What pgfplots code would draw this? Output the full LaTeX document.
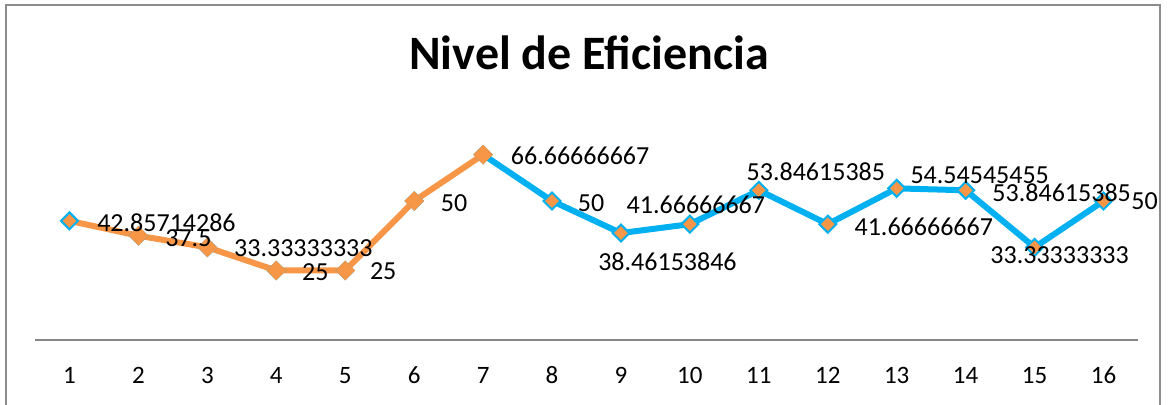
\documentclass[border=0pt]{standalone}
\usepackage{fontspec}
\setmainfont{Carlito}
\usepackage{pgfplots}
\usepackage{pgfplotstable}
\pgfplotsset{compat=1.18}

\definecolor{exorange}{HTML}{F79646}
\definecolor{exblue}{HTML}{00B0F0}
\definecolor{framegray}{HTML}{8C8C8C}
\definecolor{axisgray}{HTML}{868686}

% x, value, label text, label shift (pt)
\pgfplotstableread{
x y lab dx dy
1 42.85714286 42.85714286 48.5 -1
2 37.5 37.5 25 -1.25
3 33.33333333 33.33333333 48 -0.5
4 25 25 19.5 -0.75
5 25 25 19 -0.5
6 50 50 20 -1.25
7 66.66666667 66.66666667 48.5 -0.75
8 50 50 19.5 -1
9 38.46153846 38.46153846 23.25 -14.25
10 41.66666667 41.66666667 3 9.75
11 53.84615385 53.84615385 28.5 9.25
12 41.66666667 41.66666667 48 -1.25
13 54.54545455 54.54545455 41.5 6.5
14 53.84615385 53.84615385 48 -1.25
15 33.33333333 33.33333333 12.5 -3.75
16 50 50 20.5 -0.25
}\eficiencia

\begin{document}
\begin{tikzpicture}
\useasboundingbox (0,0) rectangle (584pt,202.5pt);
\fill[white] (0,0) rectangle (584pt,202.5pt);
\draw[framegray, line width=1.2pt] (3pt,-10pt) -- (3pt,200pt) -- (580pt,200pt) -- (580pt,-10pt);
\node[font=\fontsize{24}{28}\selectfont\bfseries, anchor=base, inner sep=0pt] at (294.5pt,167.5pt) {Nivel de Eficiencia};

\begin{axis}[
    at={(17.5pt,32.5pt)}, anchor=south west,
    scale only axis,
    width=551.5pt, height=111.2pt,
    xmin=0.5, xmax=16.5, ymin=0, ymax=80,
    axis x line=bottom, axis y line=none,
    x axis line style={-, axisgray, line width=1pt},
    xtick={1,...,16},
    major tick length=0pt,
    /pgf/number format/assume math mode=true,
    xticklabel style={font=\fontsize{12.5}{15}\selectfont, anchor=base, inner sep=0pt, yshift=-22pt},
    clip=false,
]
\addplot[exorange, line width=3pt, mark=none, restrict x to domain=1:7] table[x=x, y=y] {\eficiencia};
\addplot[exblue, line width=3pt, mark=none, restrict x to domain=7:16] table[x=x, y=y] {\eficiencia};
\addplot[only marks, mark=square*, mark size=3pt,
    mark options={rotate=45, fill=exorange, draw=exblue, line width=1pt}] table[x=x, y=y] {\eficiencia};
\addplot[only marks, mark=square*, mark size=3pt, restrict x to domain=2:7,
    mark options={rotate=45, fill=exorange, draw=exorange, line width=1pt}] table[x=x, y=y] {\eficiencia};
\addplot[draw=none, mark=none,
    point meta=explicit symbolic,
    visualization depends on={\thisrow{dx} \as \dx},
    visualization depends on={\thisrow{dy} \as \dy},
    nodes near coords,
    every node near coord/.append style={font=\fontsize{13}{15}\selectfont, text=black,
        anchor=center, inner sep=0pt, xshift=\dx pt, yshift=\dy pt}]
    table[x=x, y=y, meta=lab] {\eficiencia};
\end{axis}
\end{tikzpicture}
\end{document}
